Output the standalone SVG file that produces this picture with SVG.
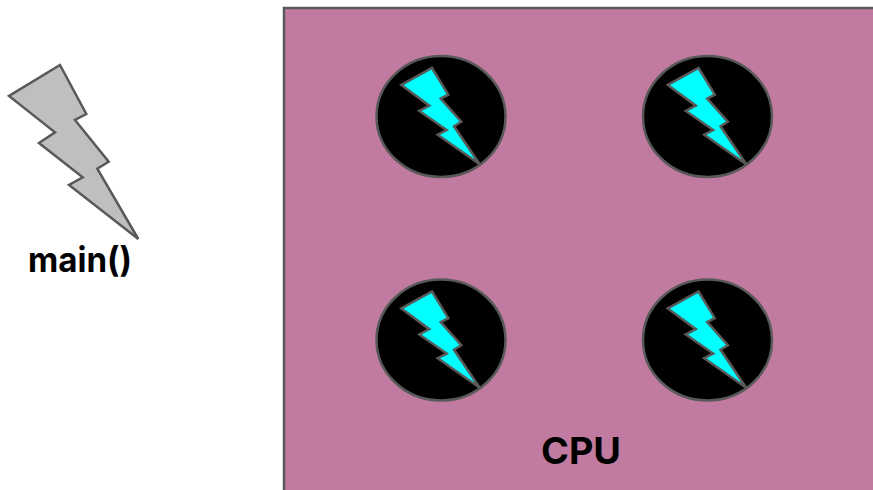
<svg xmlns="http://www.w3.org/2000/svg" xmlns:xlink="http://www.w3.org/1999/xlink" width="873" height="490" viewBox="0 0 873 490">
<style>
.lbl{font-family:"Inter","Noto Sans","Liberation Sans",sans-serif;font-weight:700;fill:#000;text-anchor:middle}
.bolt{stroke:#595959;stroke-width:2.5;stroke-linejoin:miter}
.disc{fill:#000;stroke:#595959;stroke-width:2.5}
</style>
<defs>
<g id="core">
<ellipse class="disc" cx="441" cy="116.5" rx="64.5" ry="60.5"/>
<polygon class="bolt" fill="#00ffff" points="432,68 448.3,94.7 440.7,98.7 461.3,121.7 454,126.3 479.7,164.3 437.7,134.7 446.7,130 419.3,111 429.3,105.7 401.3,85"/>
</g>
</defs>
<rect width="873" height="490" fill="#fff"/>
<g id="cpu">
<rect x="284" y="8" width="600" height="500" fill="#c27ba0" stroke="#595959" stroke-width="2.5"/>
<text class="lbl" x="581" y="464" font-size="37" textLength="80" lengthAdjust="spacingAndGlyphs">CPU</text>
</g>
<g id="main-thread">
<polygon class="bolt" fill="#bfbfbf" points="60,65 86.3,114 75,120 108.7,161.7 97.3,168.7 138.3,239 69,185 82.7,177.3 39,143 55,132.3 9,96"/>
<text class="lbl" x="80" y="272" font-size="35" textLength="104" lengthAdjust="spacingAndGlyphs">main()</text>
</g>
<g id="core-1"><use xlink:href="#core"/></g>
<g id="core-2"><use xlink:href="#core" x="266.5"/></g>
<g id="core-3"><use xlink:href="#core" y="223.5"/></g>
<g id="core-4"><use xlink:href="#core" x="266.5" y="223.5"/></g>
<g id="connectors"/>
</svg>
